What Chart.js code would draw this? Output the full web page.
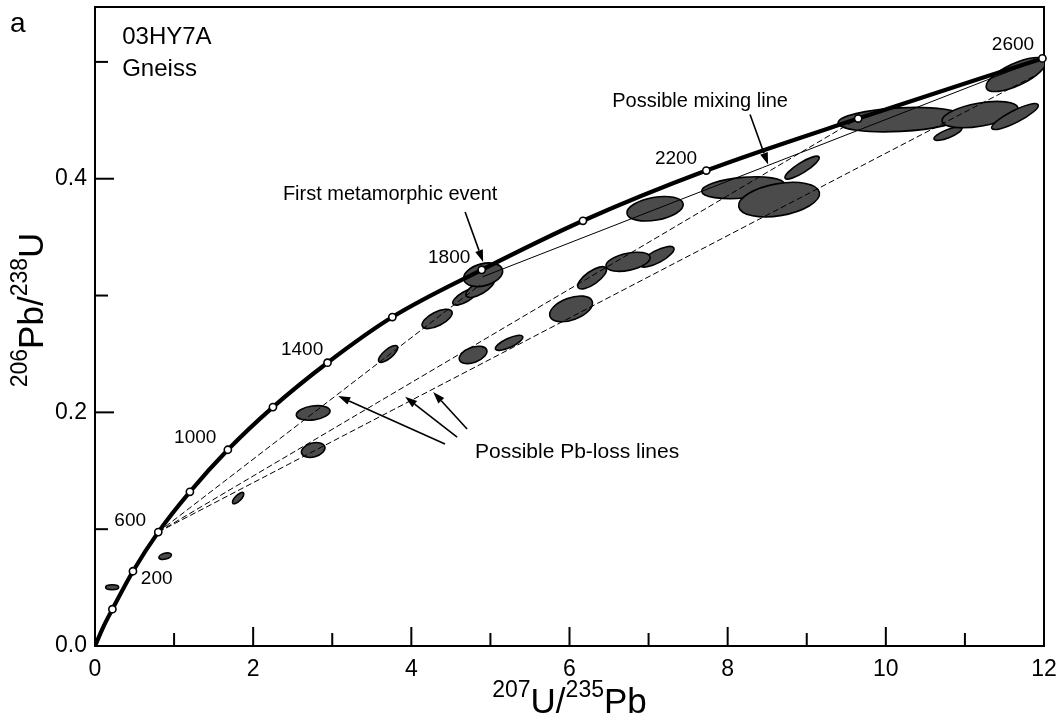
<!DOCTYPE html>
<html><head><meta charset="utf-8">
<script src="https://cdn.jsdelivr.net/npm/chart.js@4/dist/chart.umd.min.js"></script>
<style>html,body{margin:0;padding:0;background:#fff;}#wrap{width:1059px;height:720px;position:relative;}</style>
</head><body><div id="wrap"><canvas id="c" width="1059" height="720"></canvas></div>
<script>
// ---- data ----
const concordiaAge = [0, 100, 200, 400, 600, 800, 1000, 1200, 1400, 1600, 1800, 2000, 2200, 2400, 2600];
const concordiaX   = [0, 0.10, 0.22, 0.48, 0.80, 1.20, 1.68, 2.25, 2.94, 3.76, 4.89, 6.17, 7.73, 9.65, 11.98];
const concordiaY   = [0, 0.0156, 0.0315, 0.064, 0.0975, 0.132, 0.168, 0.2045, 0.2425, 0.2816, 0.322, 0.364, 0.407, 0.4515, 0.503];

// analysis error ellipses: centre, major semi-axis end offset (data units), minor/major ratio
const ellX     = [10.786, 10.180, 11.191, 11.633, 11.646, 8.195, 8.650, 8.941, 7.082, 7.107, 6.741, 6.286, 6.020, 5.236, 4.781, 4.680, 4.870, 4.908, 4.326, 3.707, 2.759, 2.759, 1.810, 0.887, 0.217];
const ellY     = [0.4386, 0.4506, 0.4549, 0.4532, 0.4892, 0.3923, 0.3821, 0.4095, 0.3743, 0.3332, 0.3289, 0.3152, 0.2886, 0.2595, 0.2492, 0.2989, 0.3066, 0.3178, 0.2800, 0.2500, 0.1995, 0.1678, 0.1266, 0.0769, 0.0503];
const ellDX    = [0.176, 0.783, 0.479, 0.293, 0.372, 0.523, 0.510, 0.214, 0.355, 0.212, 0.278, 0.176, 0.267, 0.172, 0.172, 0.153, 0.175, 0.244, 0.186, 0.116, 0.213, 0.147, 0.067, 0.079, 0.082];
const ellDY    = [0.0048, 0.0028, 0.0057, 0.0101, 0.0118, 0.0031, 0.0061, 0.0091, 0.0042, 0.0076, 0.0040, 0.0084, 0.0066, 0.0054, 0.0043, 0.0060, 0.0069, 0.0044, 0.0064, 0.0066, 0.0020, 0.0027, 0.0045, 0.0014, 0.0];
const ellRatio = [0.27, 0.19, 0.30, 0.23, 0.34, 0.25, 0.39, 0.25, 0.40, 0.32, 0.38, 0.38, 0.49, 0.30, 0.52, 0.36, 0.375, 0.55, 0.42, 0.375, 0.41, 0.58, 0.40, 0.46, 0.38];

// reference lines
const mixingX = [4.90, 11.98];
const mixingY = [0.316, 0.503];
const pbLoss1X = [0.80, 4.87];
const pbLoss1Y = [0.0975, 0.3092];
const pbLoss2X = [0.80, 9.65];
const pbLoss2Y = [0.0975, 0.4515];
const pbLoss3X = [0.80, 11.886];
const pbLoss3Y = [0.0975, 0.4883];

// concordia age labels
const ageLabelText = ['200', '600', '1000', '1400', '1800', '2200', '2600'];
const ageLabelX = [0.780, 0.445, 1.267, 2.619, 4.478, 7.347, 11.608];
const ageLabelY = [0.0572, 0.1069, 0.1780, 0.2535, 0.3323, 0.4172, 0.5149];

const xTicks = [0, 2, 4, 6, 8, 10, 12];
const yTicks = [0.0, 0.2, 0.4];

// ---- build ----
const FONT = '"Liberation Sans", Arial, Helvetica, sans-serif';
const pts = (xs, ys) => xs.map((v, i) => ({x: v, y: ys[i]}));
const concordiaPts = pts(concordiaX, concordiaY);
const markerPts = concordiaPts.filter((p, i) => concordiaAge[i] >= 200);

const annotations = [
  {text: 'First metamorphic event', x: 3.732, y: 0.3862, align: 'center', size: 20},
  {text: 'Possible mixing line', x: 7.651, y: 0.4660, align: 'center', size: 20},
  {text: 'Possible Pb-loss lines', x: 6.096, y: 0.1659, align: 'center', size: 21},
  {text: '03HY7A', x: 0.344, y: 0.5209, align: 'left', size: 24},
  {text: 'Gneiss', x: 0.344, y: 0.4935, align: 'left', size: 24}
];
const arrows = [
  [4.680, 0.3716, 4.908, 0.3288],
  [8.283, 0.4550, 8.511, 0.4121],
  [4.426, 0.1729, 3.075, 0.2140],
  [4.579, 0.1789, 3.922, 0.2134],
  [4.705, 0.1858, 4.276, 0.2175]
];

const ellipsePlugin = {
  id: 'ellipses',
  beforeDatasetsDraw(chart) {
    const {ctx, scales: {x, y}, chartArea} = chart;
    ctx.save();
    ctx.beginPath();
    ctx.rect(chartArea.left, chartArea.top, chartArea.right - chartArea.left, chartArea.bottom - chartArea.top);
    ctx.clip();
    for (let i = 0; i < ellX.length; i++) {
      const cx = x.getPixelForValue(ellX[i]), cy = y.getPixelForValue(ellY[i]);
      const ex = x.getPixelForValue(ellX[i] + ellDX[i]), ey = y.getPixelForValue(ellY[i] + ellDY[i]);
      const rx = Math.hypot(ex - cx, ey - cy);
      const ang = Math.atan2(ey - cy, ex - cx);
      ctx.beginPath();
      ctx.ellipse(cx, cy, rx, rx * ellRatio[i], ang, 0, Math.PI * 2);
      ctx.fillStyle = '#4b4b4b';
      ctx.fill();
      ctx.lineWidth = 1.6;
      ctx.strokeStyle = '#000';
      ctx.stroke();
    }
    ctx.restore();
  }
};

function drawRich(ctx, parts, x, y, mainSize, supSize, raise) {
  let total = 0;
  parts.forEach(p => {
    ctx.font = (p.sup ? supSize : mainSize) + 'px ' + FONT;
    p.w = ctx.measureText(p.t).width;
    total += p.w;
  });
  let cx = x - total / 2;
  ctx.textAlign = 'left';
  ctx.textBaseline = 'alphabetic';
  parts.forEach(p => {
    ctx.font = (p.sup ? supSize : mainSize) + 'px ' + FONT;
    ctx.fillText(p.t, cx, p.sup ? y - raise : y);
    cx += p.w;
  });
}

const framePlugin = {
  id: 'frame',
  beforeDatasetsDraw(chart) {
    const {ctx, scales: {x, y}, chartArea: ca} = chart;
    ctx.save();
    ctx.strokeStyle = '#000';
    ctx.lineWidth = 2;
    ctx.strokeRect(ca.left, ca.top, ca.right - ca.left, ca.bottom - ca.top);
    for (let v = 0; v <= 12; v++) {
      const px = x.getPixelForValue(v);
      const len = v % 2 === 0 ? 19 : 13;
      ctx.beginPath(); ctx.moveTo(px, ca.bottom); ctx.lineTo(px, ca.bottom - len); ctx.stroke();
    }
    for (let k = 0; k <= 5; k++) {
      const py = y.getPixelForValue(k / 10);
      const len = k % 2 === 0 ? 19 : 13;
      ctx.beginPath(); ctx.moveTo(ca.left, py); ctx.lineTo(ca.left + len, py); ctx.stroke();
    }
    ctx.restore();
  }
};

const decorPlugin = {
  id: 'decor',
  afterDatasetsDraw(chart) {
    const {ctx, scales: {x, y}, chartArea: ca} = chart;
    ctx.save();
    ctx.fillStyle = '#000';
    ctx.strokeStyle = '#000';
    // age labels
    ctx.font = '19px ' + FONT;
    ctx.textAlign = 'center';
    ctx.textBaseline = 'middle';
    ageLabelText.forEach((t, i) => ctx.fillText(t, x.getPixelForValue(ageLabelX[i]), y.getPixelForValue(ageLabelY[i])));
    // annotations
    annotations.forEach(a => {
      ctx.font = a.size + 'px ' + FONT;
      ctx.textAlign = a.align;
      ctx.textBaseline = 'middle';
      ctx.fillText(a.text, x.getPixelForValue(a.x), y.getPixelForValue(a.y));
    });
    // arrows
    arrows.forEach(a => {
      const x1 = x.getPixelForValue(a[0]), y1 = y.getPixelForValue(a[1]);
      const x2 = x.getPixelForValue(a[2]), y2 = y.getPixelForValue(a[3]);
      const ang = Math.atan2(y2 - y1, x2 - x1);
      const L = 12, W = 4;
      const bx = x2 - L * Math.cos(ang), by = y2 - L * Math.sin(ang);
      ctx.lineWidth = 1.6;
      ctx.beginPath(); ctx.moveTo(x1, y1); ctx.lineTo(bx, by); ctx.stroke();
      ctx.beginPath();
      ctx.moveTo(x2, y2);
      ctx.lineTo(bx + W * Math.sin(ang), by - W * Math.cos(ang));
      ctx.lineTo(bx - W * Math.sin(ang), by + W * Math.cos(ang));
      ctx.closePath(); ctx.fill();
    });
    // panel letter
    ctx.font = '28px ' + FONT;
    ctx.textAlign = 'left';
    ctx.textBaseline = 'alphabetic';
    ctx.fillText('a', 10, 32);
    // axis titles
    drawRich(ctx, [{t: '207', sup: true}, {t: 'U'}, {t: '/'}, {t: '235', sup: true}, {t: 'Pb'}],
      (ca.left + ca.right) / 2, 713, 35, 23, 16);
    ctx.save();
    ctx.translate(43, 310);
    ctx.rotate(-Math.PI / 2);
    drawRich(ctx, [{t: '206', sup: true}, {t: 'Pb'}, {t: '/'}, {t: '238', sup: true}, {t: 'U'}],
      0, 0, 35, 23, 16);
    ctx.restore();
    ctx.restore();
  }
};

const zeroPad = s => { s.paddingLeft = 0; s.paddingRight = 0; s.paddingTop = 0; s.paddingBottom = 0; };

new Chart(document.getElementById('c'), {
  type: 'scatter',
  data: {
    datasets: [
      {label: 'ages', data: markerPts, showLine: false, pointRadius: 3.6, pointBackgroundColor: '#fff',
       pointBorderColor: '#000', pointBorderWidth: 1.6, clip: false},
      {label: 'concordia', data: concordiaPts, showLine: true, borderColor: '#000', borderWidth: 4.2,
       pointRadius: 0, cubicInterpolationMode: 'monotone'},
      {label: 'mixing', data: pts(mixingX, mixingY), showLine: true, borderColor: '#000', borderWidth: 1, pointRadius: 0},
      {label: 'pbloss1', data: pts(pbLoss1X, pbLoss1Y), showLine: true, borderColor: '#000', borderWidth: 1, borderDash: [6, 3], pointRadius: 0},
      {label: 'pbloss2', data: pts(pbLoss2X, pbLoss2Y), showLine: true, borderColor: '#000', borderWidth: 1, borderDash: [6, 3], pointRadius: 0},
      {label: 'pbloss3', data: pts(pbLoss3X, pbLoss3Y), showLine: true, borderColor: '#000', borderWidth: 1, borderDash: [6, 3], pointRadius: 0}
    ]
  },
  options: {
    responsive: false,
    animation: false,
    devicePixelRatio: 1,
    layout: {padding: {left: 0, top: 7, right: 15, bottom: 0}},
    plugins: {legend: {display: false}, tooltip: {enabled: false}},
    scales: {
      x: {
        type: 'linear', min: 0, max: 12,
        grid: {display: false, drawTicks: false}, border: {display: false},
        afterBuildTicks: s => { s.ticks = xTicks.map(v => ({value: v})); },
        ticks: {color: '#000', font: {family: FONT, size: 23}, padding: 10, maxRotation: 0, autoSkip: false,
                callback: v => String(v)},
        afterFit: s => { s.height = 74; zeroPad(s); }
      },
      y: {
        type: 'linear', min: 0, max: 0.547,
        grid: {display: false, drawTicks: false}, border: {display: false},
        afterBuildTicks: s => { s.ticks = yTicks.map(v => ({value: v})); },
        ticks: {color: '#000', font: {family: FONT, size: 23}, padding: 8,
                callback: v => Number(v).toFixed(1)},
        afterFit: s => { s.width = 95; zeroPad(s); }
      }
    }
  },
  plugins: [framePlugin, ellipsePlugin, decorPlugin]
});
</script></body></html>
